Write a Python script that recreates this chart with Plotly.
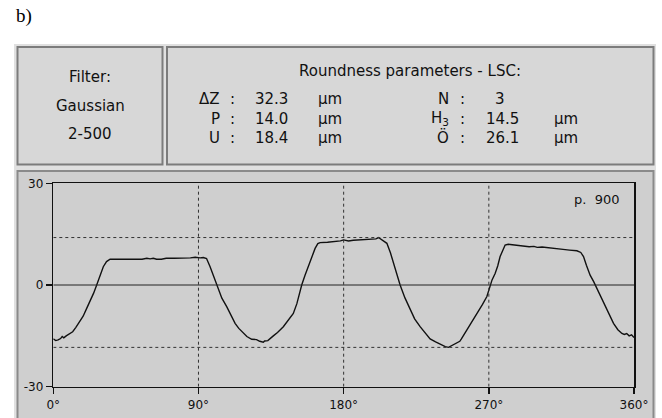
import plotly.graph_objects as go

# ---------------- data ----------------
ANGLE_DEG = [0, 1.5, 3, 4.5, 5.5, 6.5, 8, 10, 12, 14, 16.6, 18.5, 20.7, 23, 25, 26.9, 29, 31, 33, 35.2,
             40, 45, 50, 55, 58, 60, 62, 64, 67, 70, 75, 80, 85, 88, 91, 93, 95, 97.2, 99, 101.3,
             103.4, 104.5, 107.5, 110, 112.7, 115, 117.8, 120, 123, 126, 128, 130.2, 131, 133, 136.4,
             139, 142.6, 145, 148.8, 151, 152.5, 154, 156, 158.1, 160, 162.3, 164, 165.4, 170, 175,
             178, 180, 183, 186, 190, 195, 200, 201.6, 203, 205, 206.8, 209, 210.9, 213, 215, 218,
             221.2, 224, 227.4, 230, 233.6, 237, 240, 243, 245, 247, 250, 252, 253, 256.4, 260,
             263.6, 266, 268.8, 270.8, 272, 273.9, 275.5, 277, 279, 280.1, 282, 285, 290, 295, 298,
             300, 303, 306, 310, 316, 320, 324.6, 327, 328.7, 330.5, 332.8, 335, 336, 338, 341, 344,
             347.3, 350, 352.5, 354, 355.5, 357, 358.5, 360]
DEVIATION_UM = [-15.9, -16.4, -16.2, -15.8, -15.2, -15.6, -15.0, -14.3, -13.8, -12.5, -10.8, -9.2, -6.9,
                -4.6, -2.4, 0.0, 2.7, 5.4, 6.9, 7.6,
                7.6, 7.6, 7.7, 7.6, 7.9, 7.7, 7.9, 7.6, 7.6, 7.9, 7.9, 7.9, 8.0, 8.2, 8.0, 8.1, 7.8, 5.4,
                3.0, 0.0,
                -2.5, -3.9, -6.4, -8.6, -11.3, -12.8, -14.3, -15.2, -16.0, -16.1, -16.6, -16.9, -16.5,
                -16.4, -15.0,
                -14.0, -12.3, -10.8, -8.4, -5.5, -2.6, 0.0, 2.8, 5.4, 8.0, 10.8, 12.2, 12.5, 12.6, 12.8,
                13.0, 13.3, 13.0, 13.2, 13.3, 13.5, 13.6, 14.0, 13.6, 13.0, 12.3, 9.5, 6.4, 3.2, 0.0, -3.8,
                -7.4, -10.0, -12.3, -13.9, -15.9, -16.8, -17.6, -18.2, -18.4, -17.9, -16.9, -16.6, -15.9,
                -13.3, -10.6,
                -7.9, -5.8, -3.4, 0.0, 1.5, 3.4, 5.6, 8.4, 10.8, 11.8, 12.0, 11.8, 11.6, 11.3, 11.4,
                11.1, 11.2, 11.0, 10.8, 10.5, 10.3, 10.1, 9.6, 8.4, 5.8, 2.9, 1.0, 0.0, -2.5, -5.4, -8.2,
                -11.3, -13.2, -14.3, -14.6, -14.3, -15.0, -14.7, -15.5]

X_TICKS = [0, 90, 180, 270, 360]
X_TICK_LABELS = ["0°", "90°", "180°", "270°", "360°"]
Y_TICKS = [-30, 0, 30]
Y_TICK_LABELS = ["-30", "0", "30"]

PEAK_P = 14.0
VALLEY_V = -18.4

PARAM_LABELS = ["ΔZ", "P", "U", "N", "H<sub>3</sub>", "Ö"]
PARAM_VALUES = ["32.3", "14.0", "18.4", "3", "14.5", "26.1"]
PARAM_UNITS = ["µm", "µm", "µm", "", "µm", "µm"]

FILTER_LINES = ["Filter:", "Gaussian", "2-500"]
POINTS_LABEL = "p.  900"

# ---------------- layout helpers ----------------
W, H = 662, 418
FONT = "DejaVu Sans"
TXT = "#111111"
FS = 15


def px(x):
    return x / W


def py(y):
    return 1 - y / H


fig = go.Figure()
fig.add_trace(go.Scatter(x=ANGLE_DEG, y=DEVIATION_UM, mode="lines",
                         line=dict(color="#111111", width=1.4), hoverinfo="skip",
                         showlegend=False))

shapes = []
shapes.append(dict(type="rect", xref="paper", yref="paper", x0=px(14), x1=px(656), y0=py(418), y1=py(44),
                   fillcolor="#e0e0e0", line=dict(width=0), layer="below"))
shapes.append(dict(type="rect", xref="paper", yref="paper", x0=px(17.5), x1=px(162.5), y0=py(164.5), y1=py(47),
                   fillcolor="#d7d7d7", line=dict(color="#7c7c7c", width=2), layer="below"))
shapes.append(dict(type="rect", xref="paper", yref="paper", x0=px(167), x1=px(653.5), y0=py(164.5), y1=py(47),
                   fillcolor="#d7d7d7", line=dict(color="#7c7c7c", width=2), layer="below"))
shapes.append(dict(type="rect", xref="paper", yref="paper", x0=px(17.5), x1=px(653.5), y0=py(421), y1=py(171),
                   fillcolor="#cfcfcf", line=dict(color="#8a8a8a", width=2), layer="below"))

for xv in X_TICKS[1:-1]:
    shapes.append(dict(type="line", xref="x", yref="y", x0=xv, x1=xv, y0=-30, y1=30,
                       line=dict(color="#333333", width=1, dash="dot")))
for yv in (PEAK_P, VALLEY_V):
    shapes.append(dict(type="line", xref="x", yref="y", x0=0, x1=360, y0=yv, y1=yv,
                       line=dict(color="#333333", width=1, dash="dot")))
shapes.append(dict(type="line", xref="x", yref="y", x0=0, x1=360, y0=0, y1=0,
                   line=dict(color="#222222", width=1)))

ann = []
ann.append(dict(text="b)", xref="paper", yref="paper", x=px(14), y=py(16), xanchor="left", yanchor="middle",
                showarrow=False, font=dict(family="Liberation Serif", size=19, color="#000000")))
for t, yy in zip(FILTER_LINES, [77, 105.5, 134]):
    ann.append(dict(text=t, xref="paper", yref="paper", x=px(90), y=py(yy), xanchor="center",
                    yanchor="middle", showarrow=False, font=dict(family=FONT, size=FS, color=TXT)))
ann.append(dict(text="Roundness parameters - LSC:", xref="paper", yref="paper", x=px(410), y=py(71),
                xanchor="center", yanchor="middle", showarrow=False,
                font=dict(family=FONT, size=FS, color=TXT)))

rows_y = [99, 118.5, 137.5]
for i in range(6):
    col = i // 3
    r = i % 3
    yy = rows_y[r]
    colon_x = 232 if col == 0 else 462
    label_right = 222 if col == 0 else 451
    val_x = 253 if col == 0 else 484
    unit_x = 316 if col == 0 else 552
    ann.append(dict(text=PARAM_LABELS[i], xref="paper", yref="paper", x=px(label_right), y=py(yy),
                    xanchor="right", yanchor="middle", showarrow=False,
                    font=dict(family=FONT, size=FS, color=TXT)))
    ann.append(dict(text=":", xref="paper", yref="paper", x=px(colon_x), y=py(yy),
                    xanchor="center", yanchor="middle", showarrow=False,
                    font=dict(family=FONT, size=FS, color=TXT)))
    vx = val_x + (9 if PARAM_VALUES[i] == "3" else 0)
    ann.append(dict(text=PARAM_VALUES[i], xref="paper", yref="paper", x=px(vx), y=py(yy),
                    xanchor="left", yanchor="middle", showarrow=False,
                    font=dict(family=FONT, size=FS, color=TXT)))
    if PARAM_UNITS[i]:
        ann.append(dict(text=PARAM_UNITS[i], xref="paper", yref="paper", x=px(unit_x), y=py(yy),
                        xanchor="left", yanchor="middle", showarrow=False,
                        font=dict(family=FONT, size=FS, color=TXT)))

ann.append(dict(text=POINTS_LABEL, xref="paper", yref="paper", x=px(621), y=py(199), xanchor="right",
                yanchor="middle", showarrow=False, font=dict(family=FONT, size=13, color=TXT)))

fig.update_layout(
    width=W, height=H, margin=dict(l=0, r=0, t=0, b=0, pad=0),
    paper_bgcolor="#ffffff", plot_bgcolor="#cfcfcf",
    shapes=shapes, annotations=ann, showlegend=False,
    xaxis=dict(domain=[px(53.3), px(634)], range=[0, 360], tickvals=X_TICKS, ticktext=X_TICK_LABELS,
               ticks="outside", ticklen=6, tickwidth=1.5, tickcolor="#111111",
               showline=True, mirror=True, linecolor="#111111", linewidth=1.5,
               showgrid=False, zeroline=False, automargin=False, fixedrange=True,
               tickfont=dict(family=FONT, size=12, color=TXT)),
    yaxis=dict(domain=[py(386.7), py(183.3)], range=[-30, 30], tickvals=Y_TICKS, ticktext=Y_TICK_LABELS,
               ticks="outside", ticklen=6, tickwidth=1.5, tickcolor="#111111",
               showline=True, mirror=True, linecolor="#111111", linewidth=1.5,
               showgrid=False, zeroline=False, automargin=False, fixedrange=True,
               tickfont=dict(family=FONT, size=12, color=TXT)),
)

fig.write_html("out.html", config={"displayModeBar": False, "staticPlot": True},
               post_script="document.body.style.margin='0';document.body.style.padding='0';"
                           "document.documentElement.style.overflow='hidden';")
